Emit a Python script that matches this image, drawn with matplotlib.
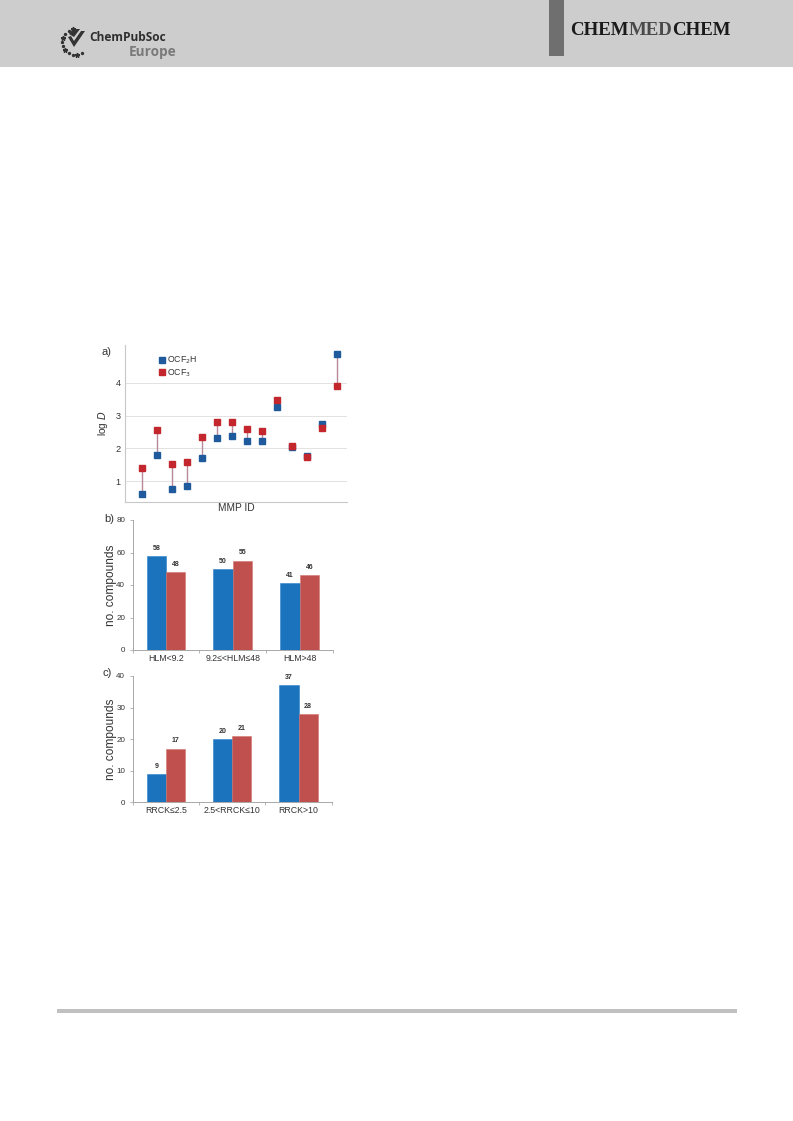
import matplotlib
matplotlib.use("Agg")
import matplotlib.pyplot as plt
from matplotlib.patches import Rectangle, Polygon
from matplotlib.lines import Line2D
import numpy as np

# ---- data -------------------------------------------------------------
mmp_ids = list(range(1, 15))
logd_ocf2h = [0.62, 1.80, 0.77, 0.87, 1.71, 2.31, 2.38, 2.24, 2.22, 3.27, 2.04, 1.78, 2.74, 4.88]
logd_ocf3 = [1.40, 2.56, 1.52, 1.58, 2.34, 2.81, 2.81, 2.58, 2.53, 3.47, 2.07, 1.73, 2.63, 3.89]

hlm_bins = ["HLM<9.2", "9.2\u2264<HLM\u226448", "HLM>48"]
hlm_ocf2h = [58, 50, 41]
hlm_ocf3 = [48, 55, 46]

rrck_bins = ["RRCK\u22642.5", "2.5<RRCK\u226410", "RRCK>10"]
rrck_ocf2h = [9, 20, 37]
rrck_ocf3 = [17, 21, 28]

# ---- styling ----------------------------------------------------------
W, H = 793, 1121
BLUE_PT = "#1f5a9c"
RED_PT = "#c3262d"
BLUE_BAR = "#1b73be"
RED_BAR = "#c0504d"
SPINE = "#a8a8a8"
TXT = "#333333"
SANS = ["Liberation Sans", "DejaVu Sans"]

plt.rcParams["font.family"] = SANS

fig = plt.figure(figsize=(W / 100, H / 100), dpi=100)
fig.patch.set_facecolor("white")


def px_axes(left, top, right, bottom, **kw):
    return fig.add_axes([left / W, 1 - bottom / H, (right - left) / W, (bottom - top) / H], **kw)


def fx(x):
    return x / W


def fy(y):
    return 1 - y / H


# ---- page header ------------------------------------------------------
fig.patches.append(Rectangle((0, fy(67)), 1, 67 / H, transform=fig.transFigure,
                             facecolor="#cdcdcd", edgecolor="none", zorder=0))
fig.patches.append(Rectangle((fx(549), fy(56)), 15 / W, 56 / H, transform=fig.transFigure,
                             facecolor="#6f6f6f", edgecolor="none", zorder=1))

# journal title in three pieces: outer "CHEM"s pinned to the ends, grey "MED" centred between
serif = ["Liberation Serif", "DejaVu Serif"]
title_left, title_right, title_y = 570, 731, 30.5
title_kw = dict(family=serif, fontweight="bold", fontsize=13.6, va="center")
t1 = fig.text(fx(title_left), fy(title_y), "CHEM", color="#1a1a1a", ha="left", **title_kw)
t3 = fig.text(fx(title_right), fy(title_y), "CHEM", color="#1a1a1a", ha="right", **title_kw)
renderer = fig.canvas.get_renderer()
w_chem = t1.get_window_extent(renderer).width
mid = (title_left + w_chem + title_right - w_chem) / 2
fig.text(fx(mid), fy(title_y), "MED", color="#4a4a4a", ha="center", **title_kw)

# society logo
logo_font = ["Open Sans", "DejaVu Sans"]
fig.text(fx(89), fy(37.5), "ChemPubSoc", fontsize=8.6, fontweight="bold", color="#2e2e2e",
         ha="left", va="center", family=logo_font)
fig.text(fx(129), fy(52), "Europe", fontsize=9.8, fontweight="bold", color="#7a7a7a",
         ha="left", va="center", family=logo_font)
fig.patches.append(Polygon([(fx(68), fy(37)), (fx(74), fy(47)), (fx(85), fy(31)), (fx(81), fy(31)),
                            (fx(74), fy(41)), (fx(71), fy(36))], closed=True,
                           transform=fig.transFigure, facecolor="#333333", edgecolor="none"))
fig.patches.append(Polygon([(fx(69), fy(34)), (fx(73), fy(29)), (fx(80), fy(29)), (fx(74), fy(37))],
                           closed=True, transform=fig.transFigure, facecolor="#333333", edgecolor="none"))
ang = np.linspace(100, 300, 11)
for k, a in enumerate(ang):
    r = 13
    cx, cy = 75 + r * np.cos(np.radians(a)), 42 - r * np.sin(np.radians(a))
    fig.add_artist(Line2D([fx(cx)], [fy(cy)], marker="*" if k % 3 == 0 else "o",
                          markersize=3.4 if k % 3 == 0 else 1.4, color="#333333",
                          transform=fig.transFigure))

# ---- footer rule ------------------------------------------------------
fig.patches.append(Rectangle((fx(57), fy(1013)), 680 / W, 4 / H, transform=fig.transFigure,
                             facecolor="#c0c0c0", edgecolor="none"))

# ---- panel a: log D of matched pairs -----------------------------------
ax_box = (125, 345, 347, 502)
ax = px_axes(*ax_box)
xpos = np.arange(len(mmp_ids))
ax.vlines(xpos, logd_ocf2h, logd_ocf3, color="#b7899a", linewidth=1.0, zorder=2)
ax.plot(xpos, logd_ocf2h, "s", color=BLUE_PT, markersize=5, zorder=3, label="OCF$_2$H")
ax.plot(xpos, logd_ocf3, "s", color=RED_PT, markersize=5, zorder=3, label="OCF$_3$")
ax.set_xlim(-1.15, 13.65)
ax.set_ylim(0.37, 5.15)
ax.set_yticks([1, 2, 3, 4])
ax.set_xticks([])
ax.yaxis.grid(True, color="#e2e2e2", linewidth=0.7)
ax.set_axisbelow(True)
for s in ["top", "right"]:
    ax.spines[s].set_visible(False)
for s in ["left", "bottom"]:
    ax.spines[s].set_color("#c8c8c8")
    ax.spines[s].set_linewidth(0.8)
ax.tick_params(axis="y", length=0, labelsize=6.6, labelcolor=TXT, pad=3)
ax.set_xlabel("MMP ID", fontsize=7.3, color=TXT, labelpad=1)
ax.set_ylabel("log $\\mathit{D}$", fontsize=7.2, color=TXT)
ax.yaxis.set_label_coords((110 - ax_box[0]) / (ax_box[2] - ax_box[0]), 0.5)
leg = ax.legend(loc="upper left", bbox_to_anchor=(fx(159), fy(355)), bbox_transform=fig.transFigure,
                frameon=False, fontsize=6.3, handlelength=0.6, handletextpad=0.35,
                labelspacing=0.12, borderaxespad=0, borderpad=0, markerscale=0.9)
for t in leg.get_texts():
    t.set_color(TXT)
fig.text(fx(106), fy(351.5), "a)", fontsize=8, color=TXT, ha="center", va="center")


# ---- grouped bar panels ------------------------------------------------
def bar_panel(box, cats, v1, v2, ymax, step, tag_xy, tag):
    axb = px_axes(*box)
    idx = np.arange(len(cats))
    w = 0.29
    b1 = axb.bar(idx - w / 2, v1, w, color=BLUE_BAR, edgecolor="#2a7fc9", linewidth=0.4)
    b2 = axb.bar(idx + w / 2, v2, w, color=RED_BAR, edgecolor="#d4736f", linewidth=0.4)
    for bars, vals in [(b1, v1), (b2, v2)]:
        for b, v in zip(bars, vals):
            axb.annotate(f"{v}", (b.get_x() + b.get_width() / 2, v), xytext=(0, 3),
                         textcoords="offset points", ha="center", va="bottom",
                         fontsize=5.0, fontweight="bold", color="#333333")
    axb.set_xlim(-0.5, len(cats) - 0.5)
    axb.set_ylim(0, ymax)
    axb.set_yticks(np.arange(0, ymax + 1, step))
    axb.set_xticks(idx)
    axb.set_xticklabels(cats)
    axb.set_xticks(np.arange(-0.5, len(cats)), minor=True)
    axb.tick_params(axis="x", which="major", length=0, labelsize=6.3, labelcolor=TXT, pad=3)
    axb.tick_params(axis="x", which="minor", length=2.5, color=SPINE, width=0.6)
    axb.tick_params(axis="y", length=2.5, color=SPINE, width=0.6, labelsize=5.8,
                    labelcolor=TXT, pad=3)
    for s in ["top", "right"]:
        axb.spines[s].set_visible(False)
    for s in ["left", "bottom"]:
        axb.spines[s].set_color(SPINE)
        axb.spines[s].set_linewidth(0.7)
    axb.set_ylabel("no. compounds", fontsize=8.6, color=TXT)
    axb.yaxis.set_label_coords((117 - box[0]) / (box[2] - box[0]), 0.5)
    fig.text(fx(tag_xy[0]), fy(tag_xy[1]), tag, fontsize=8, color=TXT, ha="center", va="center")
    return axb


bar_panel((132.7, 520, 333, 650), hlm_bins, hlm_ocf2h, hlm_ocf3, 80, 20, (109, 519.5), "b)")
bar_panel((132.7, 676, 331.7, 802.3), rrck_bins, rrck_ocf2h, rrck_ocf3, 40, 10, (107, 673), "c)")

fig.savefig("out.png", dpi=100, facecolor="white")
